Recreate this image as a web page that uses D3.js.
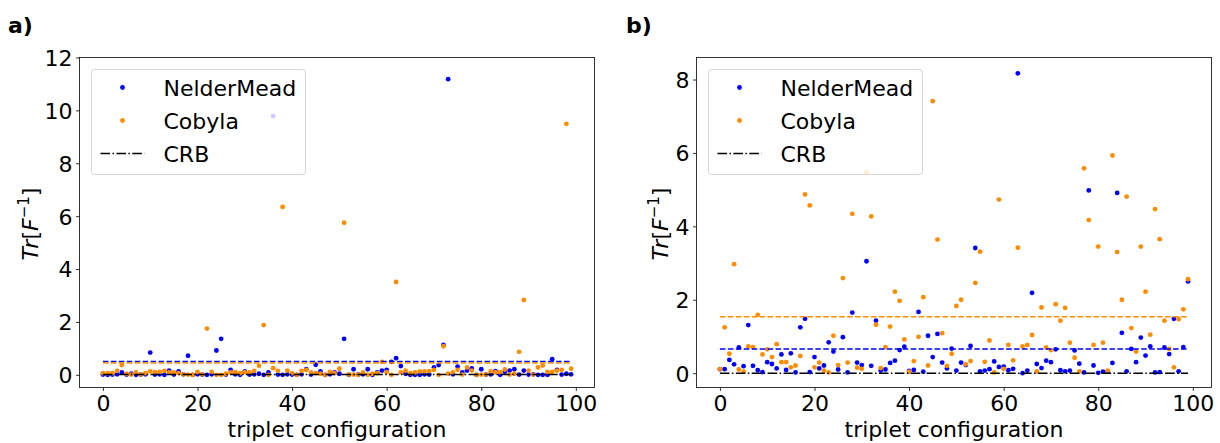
<!DOCTYPE html>
<html>
<head>
<meta charset="utf-8">
<script src="https://cdn.jsdelivr.net/npm/d3@7"></script>
<style>
  body { margin: 0; background: #fff; }
  svg { display: block; font-family: "DejaVu Sans", sans-serif; }
</style>
</head>
<body>
<svg width="1220" height="443"></svg>
<script>
// configuration index on the x axis
const configs = d3.range(100);

// panel a) values
const nelderA = [
  0.01, 0.00, 0.01, 0.02, 0.09, 0.01, 0.04, 0.00, 0.01, 0.02,
  0.84, 0.01, 0.02, 0.00, 0.16, 0.01, 0.13, 0.02, 0.72, 0.00,
  0.02, 0.01, 0.00, 0.02, 0.92, 1.36, 0.01, 0.19, 0.02, 0.00,
  0.13, 0.01, 0.02, 0.04, 0.00, 0.09, 9.78, 0.01, 0.00, 0.02,
  0.01, 0.00, 0.02, 0.21, 0.01, 0.38, 0.13, 0.00, 0.02, 0.09,
  0.04, 1.36, 0.00, 0.21, 0.01, 0.02, 0.21, 0.00, 0.09, 0.16,
  0.19, 0.49, 0.63, 0.33, 0.04, 0.00, 0.00, 0.00, 0.02, 0.01,
  0.28, 0.37, 1.13, 11.18, 0.02, 0.31, 0.09, 0.16, 0.24, 0.00,
  0.21, 0.01, 0.02, 0.14, 0.00, 0.12, 0.16, 0.21, 0.01, 0.16,
  0.01, 0.02, 0.00, 0.00, 0.00, 0.59, 0.19, 0.01, 0.04, 0.02
];
const cobylaA = [
  0.06, 0.06, 0.06, 0.15, 0.37, 0.04, 0.01, 0.09, 0.01, 0.06,
  0.13, 0.10, 0.11, 0.15, 0.09, 0.09, 0.06, 0.02, 0.01, 0.00,
  0.11, 0.02, 1.75, 0.11, 0.00, 0.00, 0.04, 0.09, 0.10, 0.06,
  0.10, 0.09, 0.15, 0.34, 1.88, 0.00, 0.25, 0.15, 6.35, 0.16,
  0.06, 0.00, 0.15, 0.19, 0.09, 0.06, 0.04, 0.00, 0.11, 0.06,
  0.23, 5.75, 0.01, 0.01, 0.00, 0.09, 0.00, 0.04, 0.06, 0.49,
  0.10, 0.00, 3.51, 0.09, 0.16, 0.06, 0.09, 0.13, 0.13, 0.14,
  0.19, 0.00, 1.08, 0.04, 0.09, 0.19, 0.01, 0.28, 0.16, 0.00,
  0.01, 0.01, 0.13, 0.10, 0.10, 0.20, 0.01, 0.04, 0.87, 2.83,
  0.16, 0.01, 0.28, 0.35, 0.11, 0.11, 0.16, 0.19, 9.49, 0.23
];
const meanA = [0.50, 0.45];   // NelderMead, Cobyla
const crbA = [0.01, 0.01];    // CRB level at first and last configuration

// panel b) values
const nelderB = [
  0.11, 0.11, 0.36, 0.24, 0.70, 0.19, 1.31, 0.20, 0.08, 0.03,
  0.30, 0.25, 0.13, 0.51, 0.09, 0.54, 0.02, 1.25, 1.48, 0.03,
  0.44, 0.13, 0.21, 0.84, 0.59, 0.10, 0.98, 0.02, 1.65, 0.29,
  0.22, 3.05, 0.20, 1.43, 0.07, 0.10, 0.28, 0.34, 0.63, 0.72,
  0.06, 0.09, 1.67, 0.04, 1.02, 0.44, 1.07, 0.29, 0.13, 0.67,
  0.07, 0.29, 0.22, 0.74, 3.41, 0.05, 0.07, 0.11, 0.32, 0.17,
  0.18, 0.08, 0.12, 8.17, 0.00, 0.07, 2.19, 0.25, 0.14, 0.34,
  0.30, 0.65, 0.08, 0.05, 0.07, 0.62, 0.26, 0.02, 4.98, 0.21,
  0.01, 0.04, 0.05, 0.28, 4.91, 1.10, 0.05, 0.66, 0.30, 0.97,
  0.48, 0.73, 0.02, 0.03, 0.70, 0.52, 1.48, 0.05, 0.71, 2.50
];
const cobylaB = [
  0.11, 1.25, 0.53, 2.97, 0.10, 0.04, 0.73, 0.71, 1.59, 0.51,
  0.65, 0.44, 0.79, 0.30, 0.30, 0.16, 0.21, 0.47, 4.87, 4.57,
  0.16, 0.29, 0.07, 0.02, 1.02, 0.22, 2.59, 0.29, 4.34, 0.15,
  0.12, 5.46, 4.27, 1.32, 0.14, 0.71, 1.27, 2.22, 1.97, 0.92,
  0.04, 0.33, 0.99, 2.07, 0.21, 7.41, 3.64, 1.09, 0.20, 0.53,
  1.83, 2.00, 0.24, 0.33, 2.46, 3.31, 0.31, 0.89, 0.02, 4.73,
  0.12, 0.77, 0.35, 3.42, 0.73, 0.77, 1.04, 0.05, 1.79, 0.70,
  0.63, 1.88, 1.43, 1.78, 0.83, 0.42, 0.05, 5.58, 4.17, 0.77,
  3.45, 0.83, 0.07, 5.93, 3.30, 2.00, 4.81, 1.23, 0.59, 3.45,
  2.22, 1.05, 4.47, 3.65, 1.43, 0.66, 0.16, 1.47, 1.74, 2.56
];
const meanB = [0.66, 1.54];
const crbB = [0.00, 0.00];

const xTicks = [0, 20, 40, 60, 80, 100];
const yTicksA = [0, 2, 4, 6, 8, 10, 12];
const yTicksB = [0, 2, 4, 6, 8];
const seriesNames = ["NelderMead", "Cobyla", "CRB"];

const blue = "#0000ff";
const orange = "#ff8c00";
const fontSize = 22;

const svg = d3.select("svg");

function drawPanel(p) {
  const x = d3.scaleLinear().domain([-4.95, 103.95]).range([p.left, p.right]);
  const y = d3.scaleLinear().domain(p.yDomain).range([p.bottom, p.top]);
  const g = svg.append("g");

  // axes
  const xAxis = g.append("g")
    .attr("transform", `translate(0,${p.bottom})`)
    .call(d3.axisBottom(x).tickValues(xTicks).tickSize(3.5).tickPadding(3.5).tickFormat(d3.format("d")));
  const yAxis = g.append("g")
    .attr("transform", `translate(${p.left},0)`)
    .call(d3.axisLeft(y).tickValues(p.yTicks).tickSize(3.5).tickPadding(3.5).tickFormat(d3.format("d")));
  [xAxis, yAxis].forEach(a => {
    a.select(".domain").remove();
    a.selectAll(".tick line").attr("stroke", "#000").attr("stroke-width", 0.8);
    a.selectAll(".tick text").attr("font-size", fontSize).attr("fill", "#000")
      .attr("font-family", "DejaVu Sans");
  });
  xAxis.selectAll(".tick text").attr("dy", "0.76em");
  yAxis.selectAll(".tick text").attr("dy", "0.36em");

  // frame
  g.append("rect")
    .attr("x", p.left).attr("y", p.top)
    .attr("width", p.right - p.left).attr("height", p.bottom - p.top)
    .attr("fill", "none").attr("stroke", "#000").attr("stroke-width", 0.8);

  const plot = g.append("g");

  // points
  plot.selectAll(".nm").data(configs).join("circle")
    .attr("cx", i => x(i)).attr("cy", i => y(p.nelder[i]))
    .attr("r", 2.4).attr("fill", blue);
  plot.selectAll(".co").data(configs).join("circle")
    .attr("cx", i => x(i)).attr("cy", i => y(p.cobyla[i]))
    .attr("r", 2.4).attr("fill", orange);

  // CRB and mean lines
  const line = d3.line().x(d => x(d[0])).y(d => y(d[1]));
  plot.append("path")
    .attr("d", line([[0, p.crb[0]], [99, p.crb[1]]]))
    .attr("stroke", "#000").attr("stroke-width", 1.5).attr("fill", "none")
    .attr("stroke-dasharray", "9.6,2.4,1.5,2.4");
  plot.append("path")
    .attr("d", line([[0, p.mean[0]], [99, p.mean[0]]]))
    .attr("stroke", blue).attr("stroke-width", 1.5).attr("fill", "none")
    .attr("stroke-dasharray", "5.55,2.4");
  plot.append("path")
    .attr("d", line([[0, p.mean[1]], [99, p.mean[1]]]))
    .attr("stroke", orange).attr("stroke-width", 1.5).attr("fill", "none")
    .attr("stroke-dasharray", "5.55,2.4");

  // legend
  const lg = g.append("g").attr("transform", `translate(${p.left + 12},${p.top + 12})`);
  lg.append("rect")
    .attr("width", 214).attr("height", 105).attr("rx", 3)
    .attr("fill", "#fff").attr("fill-opacity", 0.8)
    .attr("stroke", "#d6d6d6").attr("stroke-width", 1);
  seriesNames.forEach((name, k) => {
    const cy = 18 + k * 33;
    if (k < 2) {
      lg.append("circle").attr("cx", 31).attr("cy", cy).attr("r", 2.4)
        .attr("fill", k === 0 ? blue : orange);
    } else {
      lg.append("line").attr("x1", 9).attr("x2", 53).attr("y1", cy).attr("y2", cy)
        .attr("stroke", "#000").attr("stroke-width", 1.5)
        .attr("stroke-dasharray", "9.6,2.4,1.5,2.4");
    }
    lg.append("text").attr("x", 72).attr("y", cy + 8)
      .attr("font-size", fontSize).text(name);
  });

  // axis labels
  svg.append("text")
    .attr("x", (p.left + p.right) / 2).attr("y", 437)
    .attr("text-anchor", "middle").attr("font-size", fontSize)
    .text("triplet configuration");

  const yl = svg.append("text")
    .attr("transform", `translate(${p.yLabelX},224) rotate(-90)`)
    .attr("text-anchor", "middle").attr("font-size", fontSize);
  yl.append("tspan").attr("font-style", "italic").text("Tr");
  yl.append("tspan").text("[");
  yl.append("tspan").attr("font-style", "italic").text("F");
  yl.append("tspan").attr("font-size", 15).attr("dy", -9).text("\u22121");
  yl.append("tspan").attr("dy", 9).text("]");

  svg.append("text")
    .attr("x", p.tagX).attr("y", 33)
    .attr("font-size", fontSize).attr("font-weight", "bold")
    .text(p.tag);
}

drawPanel({
  left: 79.5, right: 594.5, top: 57.5, bottom: 387.5,
  yDomain: [-0.48, 12.0], yTicks: yTicksA,
  nelder: nelderA, cobyla: cobylaA, mean: meanA, crb: crbA,
  yLabelX: 38, tag: "a)", tagX: 8
});
drawPanel({
  left: 696.5, right: 1211.5, top: 57.5, bottom: 387.5,
  yDomain: [-0.39, 8.6], yTicks: yTicksB,
  nelder: nelderB, cobyla: cobylaB, mean: meanB, crb: crbB,
  yLabelX: 668, tag: "b)", tagX: 626
});
</script>
</body>
</html>
